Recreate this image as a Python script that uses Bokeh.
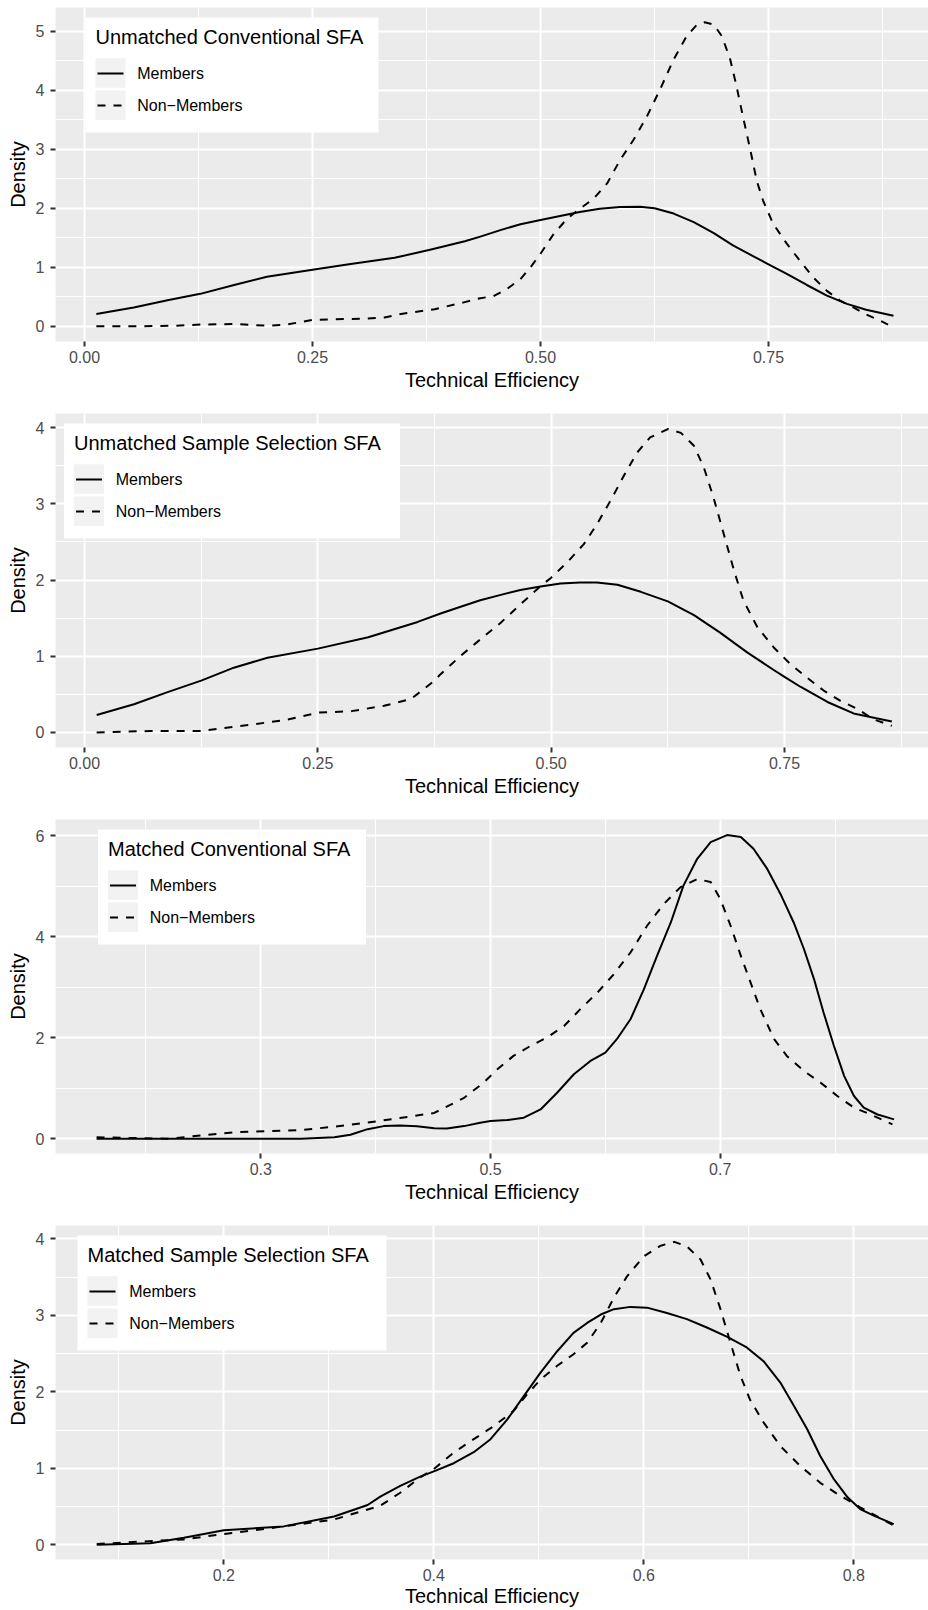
from bokeh.plotting import figure
from bokeh.models import (FixedTicker, NumeralTickFormatter, BoxAnnotation, Label,
                          Arrow, Range1d)
from bokeh.layouts import column
from bokeh.embed import file_html
from bokeh.resources import INLINE

FONT = "Liberation Sans"

# ---------------- data ----------------
TITLES = ["Unmatched Conventional SFA", "Unmatched Sample Selection SFA",
          "Matched Conventional SFA", "Matched Sample Selection SFA"]
SERIES = ["Members", "Non\u2212Members"]
X_TITLE = "Technical Efficiency"
Y_TITLE = "Density"

# Panel 1: Unmatched Conventional SFA
m1_x = [0.013, 0.054, 0.091, 0.127, 0.164, 0.2, 0.25, 0.29, 0.34, 0.38, 0.417, 0.434,
        0.456, 0.478, 0.5, 0.5215, 0.543, 0.565, 0.587, 0.609, 0.625, 0.646, 0.668,
        0.69, 0.711, 0.733, 0.75, 0.77, 0.792, 0.814, 0.836, 0.857, 0.887]
m1_y = [0.21, 0.32, 0.44, 0.55, 0.7, 0.84, 0.96, 1.05, 1.16, 1.3, 1.44, 1.52,
        1.63, 1.73, 1.80, 1.87, 1.935, 1.99, 2.02, 2.026, 2.0, 1.91, 1.765,
        1.58, 1.37, 1.19, 1.05, 0.89, 0.70, 0.52, 0.38, 0.28, 0.18]
n1_x = [0.013, 0.06, 0.1, 0.127, 0.164, 0.2, 0.222, 0.25, 0.274, 0.31, 0.329, 0.347,
        0.384, 0.417, 0.434, 0.4485, 0.463, 0.478, 0.489, 0.5, 0.514, 0.529, 0.543,
        0.558, 0.573, 0.587, 0.602, 0.6165, 0.631, 0.646, 0.660, 0.671, 0.680, 0.690,
        0.699, 0.708, 0.715, 0.722, 0.730, 0.737, 0.744, 0.755, 0.770, 0.7845, 0.799,
        0.814, 0.828, 0.843, 0.857, 0.872, 0.881]
n1_y = [0.0, 0.0, 0.01, 0.03, 0.04, 0.01, 0.03, 0.11, 0.12, 0.13, 0.15, 0.21,
        0.29, 0.41, 0.477, 0.51, 0.63, 0.80, 1.0, 1.23, 1.555, 1.82, 1.99,
        2.16, 2.42, 2.81, 3.16, 3.55, 4.01, 4.52, 4.91, 5.10, 5.15, 5.11,
        4.91, 4.52, 4.06, 3.55, 2.99, 2.47, 2.13, 1.74, 1.40, 1.11, 0.83,
        0.60, 0.44, 0.32, 0.20, 0.10, 0.03]

# Panel 2: Unmatched Sample Selection SFA
m2_x = [0.013, 0.053, 0.089, 0.125, 0.16, 0.196, 0.25, 0.304, 0.357, 0.3815, 0.403,
        0.424, 0.446, 0.467, 0.4886, 0.51, 0.531, 0.549, 0.571, 0.596, 0.625, 0.653,
        0.681, 0.71, 0.7385, 0.75, 0.767, 0.796, 0.824, 0.865]
m2_y = [0.23, 0.37, 0.53, 0.68, 0.85, 0.98, 1.1, 1.25, 1.45, 1.56, 1.65,
        1.735, 1.805, 1.87, 1.915, 1.954, 1.967, 1.967, 1.937, 1.845, 1.72, 1.54,
        1.31, 1.05, 0.82, 0.73, 0.60, 0.40, 0.25, 0.144]
n2_x = [0.013, 0.071, 0.125, 0.16, 0.214, 0.25, 0.286, 0.321, 0.35, 0.375, 0.3815,
        0.403, 0.424, 0.446, 0.467, 0.4886, 0.5, 0.517, 0.535, 0.549, 0.5635, 0.578,
        0.592, 0.606, 0.625, 0.639, 0.653, 0.6635, 0.674, 0.685, 0.696, 0.706, 0.721,
        0.7385, 0.756, 0.774, 0.792, 0.81, 0.828, 0.845, 0.865]
n2_y = [0.0, 0.02, 0.02, 0.075, 0.16, 0.26, 0.28, 0.35, 0.44, 0.68, 0.765,
        1.005, 1.22, 1.44, 1.68, 1.92, 2.03, 2.23, 2.47, 2.73, 3.04, 3.37,
        3.67, 3.87, 3.98, 3.93, 3.76, 3.48, 3.08, 2.60, 2.12, 1.73, 1.38,
        1.115, 0.90, 0.72, 0.55, 0.415, 0.31, 0.175, 0.087]

# Panel 3: Matched Conventional SFA
m3_x = [0.157, 0.335, 0.364, 0.378, 0.393, 0.407, 0.421, 0.436, 0.451, 0.462, 0.477,
        0.491, 0.5, 0.5145, 0.529, 0.5436, 0.558, 0.5726, 0.587, 0.6, 0.61, 0.622,
        0.6336, 0.645, 0.657, 0.668, 0.68, 0.6917, 0.706, 0.718, 0.729, 0.741, 0.7526,
        0.764, 0.773, 0.7817, 0.79, 0.799, 0.808, 0.8165, 0.825, 0.837, 0.8514]
m3_y = [0.0, 0.0, 0.03, 0.08, 0.19, 0.25, 0.26, 0.245, 0.21, 0.205, 0.25,
        0.317, 0.35, 0.37, 0.416, 0.58, 0.91, 1.276, 1.54, 1.705, 1.97, 2.37,
        2.96, 3.62, 4.28, 5.01, 5.54, 5.87, 6.01, 5.97, 5.74, 5.34, 4.84,
        4.28, 3.75, 3.16, 2.50, 1.84, 1.24, 0.846, 0.615, 0.48, 0.383]
n3_x = [0.157, 0.218, 0.233, 0.277, 0.335, 0.364, 0.393, 0.421, 0.451, 0.477, 0.494,
        0.506, 0.520, 0.535, 0.549, 0.564, 0.578, 0.593, 0.6075, 0.622, 0.6365, 0.651,
        0.6655, 0.680, 0.6917, 0.700, 0.709, 0.718, 0.7265, 0.735, 0.747, 0.758, 0.773,
        0.7875, 0.802, 0.8165, 0.831, 0.850]
n3_y = [0.03, 0.0, 0.03, 0.13, 0.17, 0.24, 0.32, 0.41, 0.51, 0.81, 1.11,
        1.375, 1.64, 1.84, 2.0, 2.23, 2.56, 2.89, 3.26, 3.69, 4.22, 4.65,
        4.98, 5.14, 5.08, 4.75, 4.22, 3.62, 3.09, 2.56, 1.97, 1.64, 1.34,
        1.11, 0.846, 0.615, 0.48, 0.284]

# Panel 4: Matched Sample Selection SFA
m4_x = [0.079, 0.13, 0.162, 0.2, 0.257, 0.305, 0.337, 0.349, 0.368, 0.387, 0.4, 0.419,
        0.438, 0.454, 0.470, 0.486, 0.5016, 0.5175, 0.533, 0.546, 0.559, 0.5715, 0.5873,
        0.603, 0.622, 0.641, 0.660, 0.679, 0.698, 0.714, 0.730, 0.743, 0.7556, 0.768,
        0.781, 0.794, 0.806, 0.819, 0.838]
m4_y = [0.0, 0.02, 0.09, 0.19, 0.24, 0.37, 0.52, 0.63, 0.77, 0.89, 0.96, 1.066,
        1.21, 1.38, 1.64, 1.95, 2.25, 2.53, 2.77, 2.90, 3.01, 3.08, 3.11,
        3.10, 3.03, 2.95, 2.84, 2.72, 2.58, 2.40, 2.12, 1.815, 1.51, 1.16,
        0.857, 0.62, 0.466, 0.38, 0.27]
n4_x = [0.079, 0.162, 0.2, 0.257, 0.305, 0.349, 0.368, 0.387, 0.4, 0.419, 0.438, 0.457,
        0.476, 0.489, 0.5016, 0.5175, 0.533, 0.546, 0.559, 0.5715, 0.584, 0.600, 0.616,
        0.629, 0.641, 0.654, 0.6635, 0.673, 0.6825, 0.692, 0.701, 0.714, 0.730, 0.749,
        0.768, 0.787, 0.806, 0.837]
n4_y = [0.01, 0.07, 0.14, 0.24, 0.33, 0.51, 0.68, 0.88, 0.99, 1.206, 1.38, 1.55,
        1.75, 1.97, 2.16, 2.34, 2.49, 2.64, 2.90, 3.23, 3.51, 3.77, 3.91,
        3.96, 3.90, 3.73, 3.47, 3.08, 2.64, 2.21, 1.90, 1.60, 1.29, 1.03,
        0.81, 0.64, 0.49, 0.26]

# axis limits and ticks
x_limits = [(-0.0318, 0.9254), (-0.0311, 0.9043), (0.1212, 0.8814), (0.0397, 0.8711)]
y_limits = [(-0.257, 5.40), (-0.197, 4.184), (-0.292, 6.318), (-0.193, 4.174)]
x_major = [[0.0, 0.25, 0.5, 0.75], [0.0, 0.25, 0.5, 0.75], [0.3, 0.5, 0.7], [0.2, 0.4, 0.6, 0.8]]
x_minor = [[0.125, 0.375, 0.625, 0.875], [0.125, 0.375, 0.625, 0.875],
           [0.2, 0.4, 0.6, 0.8], [0.1, 0.3, 0.5, 0.7]]
x_format = ["0.00", "0.00", "0.0", "0.0"]
y_major = [[0, 1, 2, 3, 4, 5], [0, 1, 2, 3, 4], [0, 2, 4, 6], [0, 1, 2, 3, 4]]
y_minor = [[0.5, 1.5, 2.5, 3.5, 4.5], [0.5, 1.5, 2.5, 3.5], [1, 3, 5], [0.5, 1.5, 2.5, 3.5]]

members = [(m1_x, m1_y), (m2_x, m2_y), (m3_x, m3_y), (m4_x, m4_y)]
nonmembers = [(n1_x, n1_y), (n2_x, n2_y), (n3_x, n3_y), (n4_x, n4_y)]

# ---------------- layout / style ----------------
FIG_W = 928
FIG_H = [406, 406, 406, 392]
TOP = 7
FRAME_H = 334
LEFT = 55
LEG_W = [293, 336, 268, 309]   # legend box widths
LEG_CX = 176.5                 # legend centre, px from frame left
LEG_TOP = 10
LEG_H = 115
DASH = "8 8"
X_LABEL_STANDOFF = [3, 3, 3, 1]


def add_legend(p, title, box_w):
    L = LEG_CX - box_w / 2.0
    T = FRAME_H - LEG_TOP          # y measured upward from frame bottom

    p.add_layout(BoxAnnotation(left=L, right=L + box_w, top=T, bottom=T - LEG_H,
                               left_units="screen", right_units="screen",
                               top_units="screen", bottom_units="screen",
                               fill_color="white", fill_alpha=1.0, line_color=None))
    p.add_layout(Label(x=L + 10, y=T - 19.5, x_units="screen", y_units="screen",
                       text=title, text_font=FONT, text_font_size="20px",
                       text_color="black", text_baseline="middle"))
    for i, (lab, dash) in enumerate(zip(SERIES, ["solid", DASH])):
        ktop = T - 40.7 - i * 32.3
        p.add_layout(BoxAnnotation(left=L + 10, right=L + 40, top=ktop, bottom=ktop - 29.5,
                                   left_units="screen", right_units="screen",
                                   top_units="screen", bottom_units="screen",
                                   fill_color="#F2F2F2", fill_alpha=1.0, line_color=None))
        ly = T - 56 - i * 32
        p.add_layout(Arrow(end=None, x_start=L + 12, y_start=ly, x_end=L + 38, y_end=ly,
                           start_units="screen", end_units="screen",
                           line_color="black", line_width=2, line_dash=dash))
        p.add_layout(Label(x=L + 51.7, y=ly, x_units="screen", y_units="screen",
                           text=lab, text_font=FONT, text_font_size="16px",
                           text_color="black", text_baseline="middle"))


def make_panel(k):
    h = FIG_H[k]
    p = figure(width=FIG_W, height=h, output_backend="svg", toolbar_location=None,
               x_range=Range1d(*x_limits[k]), y_range=Range1d(*y_limits[k]),
               min_border_left=LEFT, min_border_right=0, min_border_top=TOP,
               min_border_bottom=h - TOP - FRAME_H)
    p.background_fill_color = "#EBEBEB"
    p.border_fill_color = "white"
    p.outline_line_color = None

    xt = FixedTicker(ticks=x_major[k], minor_ticks=x_minor[k])
    yt = FixedTicker(ticks=y_major[k], minor_ticks=y_minor[k])
    p.xaxis.ticker = xt
    p.yaxis.ticker = yt
    p.xgrid.ticker = xt
    p.ygrid.ticker = yt
    p.xaxis.formatter = NumeralTickFormatter(format=x_format[k])
    p.yaxis.formatter = NumeralTickFormatter(format="0")

    for g in (p.xgrid[0], p.ygrid[0]):
        g.grid_line_color = "white"
        g.grid_line_width = 2
        g.minor_grid_line_color = "white"
        g.minor_grid_line_width = 1

    for ax in (p.xaxis[0], p.yaxis[0]):
        ax.axis_line_color = None
        ax.major_tick_line_color = "#333333"
        ax.major_tick_line_width = 2
        ax.major_tick_in = 0
        ax.major_tick_out = 5
        ax.minor_tick_line_color = None
        ax.major_label_text_font = FONT
        ax.major_label_text_font_size = "16px"
        ax.major_label_text_color = "#4D4D4D"
        ax.axis_label_text_font = FONT
        ax.axis_label_text_font_size = "20px"
        ax.axis_label_text_color = "black"
        ax.axis_label_text_font_style = "normal"
    p.xaxis.axis_label = X_TITLE
    p.yaxis.axis_label = Y_TITLE
    p.xaxis.major_label_standoff = 4
    p.xaxis.axis_label_standoff = X_LABEL_STANDOFF[k]
    p.yaxis.major_label_standoff = 6
    p.yaxis.axis_label_standoff = 4

    mx, my = members[k]
    nx, ny = nonmembers[k]
    p.line(mx, my, line_color="black", line_width=2, line_join="round")
    p.line(nx, ny, line_color="black", line_width=2, line_dash=DASH, line_join="round")

    add_legend(p, TITLES[k], LEG_W[k])
    return p


panels = [make_panel(k) for k in range(4)]
layout = column(*panels, spacing=0)
open("out.html", "w").write(file_html(layout, INLINE))
